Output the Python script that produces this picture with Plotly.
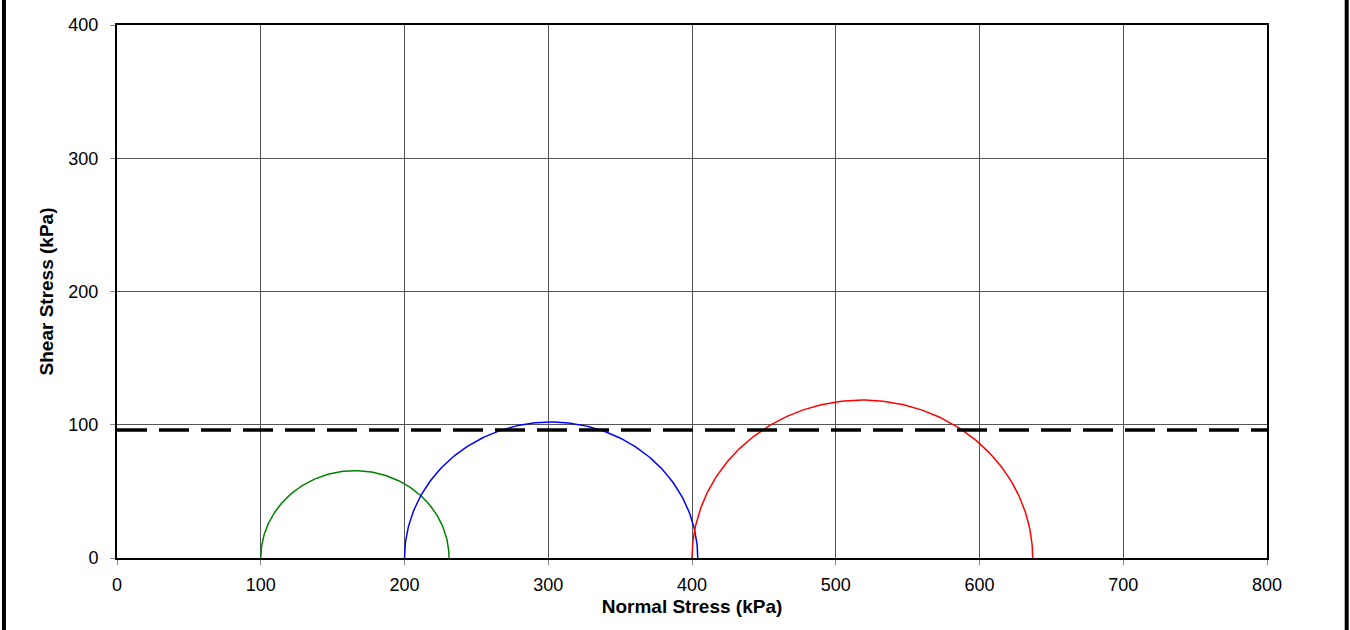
import numpy as np
import plotly.graph_objects as go

# Mohr circle data (kPa): minor and major principal stresses
sigma3 = [100, 200, 400]
sigma1 = [231, 404, 637]
colors = ["green", "blue", "red"]
cu = 96  # undrained shear strength line (kPa)

x_ticks = [0, 100, 200, 300, 400, 500, 600, 700, 800]
y_ticks = [0, 100, 200, 300, 400]

FONT = "Arial, Liberation Sans, sans-serif"

fig = go.Figure()
theta = np.linspace(0, np.pi, 181)
for s3, s1, c in zip(sigma3, sigma1, colors):
    cen = (s1 + s3) / 2
    r = (s1 - s3) / 2
    fig.add_trace(go.Scatter(x=cen - r * np.cos(theta), y=r * np.sin(theta),
                             mode="lines", line=dict(color=c, width=1.5),
                             showlegend=False, hoverinfo="skip"))

fig.add_trace(go.Scatter(x=[0, 800], y=[cu, cu], mode="lines",
                         line=dict(color="black", width=3.5, dash="30px,12px"),
                         showlegend=False, hoverinfo="skip"))

axis_common = dict(showgrid=True, gridcolor="#555555", gridwidth=0.8,
                   showline=True, linecolor="black", linewidth=2, mirror=True,
                   ticks="outside", ticklen=5, tickcolor="#888888",
                   zeroline=False, tickfont=dict(family=FONT, size=18, color="black"))

fig.update_xaxes(range=[0, 800], tickvals=x_ticks, ticklabelstandoff=4,
                 title=dict(text="<b>Normal Stress (kPa)</b>", standoff=6,
                            font=dict(family=FONT, size=19, color="black")),
                 **axis_common)
fig.update_yaxes(range=[0, 400], tickvals=y_ticks, ticklabelstandoff=8,
                 title=dict(text="<b>Shear Stress (kPa)</b>", standoff=10,
                            font=dict(family=FONT, size=19, color="black")),
                 **axis_common)

fig.update_layout(width=1350, height=630, plot_bgcolor="white", paper_bgcolor="white",
                  margin=dict(l=117, r=83, t=25, b=72),
                  shapes=[dict(type="line", xref="paper", yref="paper", x0=-0.0983, x1=-0.0983, y0=-0.2, y1=1.2,
                               line=dict(color="black", width=4)),
                          dict(type="line", xref="paper", yref="paper", x0=1.0693, x1=1.0693, y0=-0.2, y1=1.2,
                               line=dict(color="black", width=4))])

fig.write_html("out.html", config={"displayModeBar": False},
               post_script="document.body.style.margin='0';document.body.style.overflow='hidden';")
